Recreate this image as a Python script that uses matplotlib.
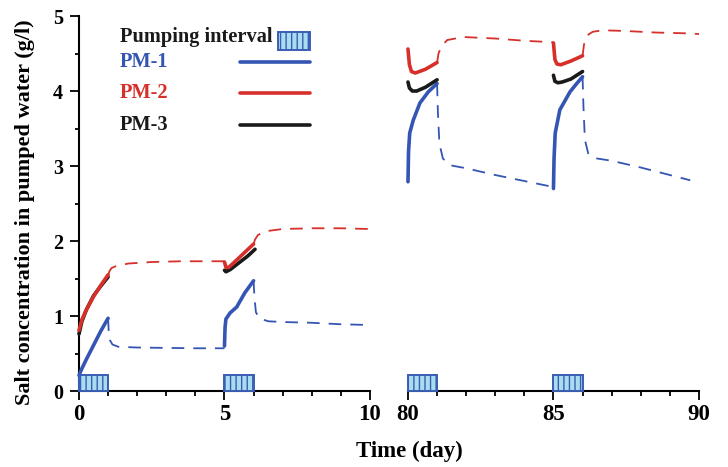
import matplotlib.pyplot as plt
from matplotlib.patches import Rectangle
from matplotlib.ticker import MultipleLocator

plt.rcParams['font.family'] = ['Liberation Serif', 'DejaVu Serif']
plt.rcParams['font.weight'] = 'bold'
plt.rcParams['hatch.linewidth'] = 1.0

BLUE = '#3455b3'
RED = '#d7302b'
BLACK = '#1a1a1a'
BOX_FILL = '#a9dcee'
BOX_EDGE = '#3a5db4'

# pumping intervals (start, end) in days
pump_intervals = [(0, 1), (5, 6), (80, 81), (85, 86)]
box_height = 0.21

# ---- left panel (days 0-10) ----
pm1_pump_t1 = [0.0, 0.1, 0.25, 0.5, 0.75, 1.0]
pm1_pump_c1 = [0.21, 0.30, 0.42, 0.61, 0.80, 0.97]
pm1_rec_t1 = [1.0, 1.02, 1.06, 1.15, 1.35, 2.0, 3.0, 4.0, 5.0]
pm1_rec_c1 = [0.97, 0.80, 0.68, 0.62, 0.59, 0.58, 0.575, 0.57, 0.57]
pm1_pump_t2 = [5.0, 5.02, 5.05, 5.19, 5.42, 5.7, 6.0]
pm1_pump_c2 = [0.60, 0.85, 0.96, 1.04, 1.12, 1.31, 1.47]
pm1_rec_t2 = [6.0, 6.03, 6.08, 6.2, 6.5, 7.0, 8.0, 9.0, 10.0]
pm1_rec_c2 = [1.47, 1.25, 1.05, 0.97, 0.93, 0.92, 0.91, 0.89, 0.88]

pm2_pump_t1 = [0.0, 0.1, 0.25, 0.5, 0.75, 1.0]
pm2_pump_c1 = [0.81, 0.95, 1.08, 1.26, 1.41, 1.55]
pm2_rec_t1 = [1.0, 1.05, 1.12, 1.3, 1.7, 2.5, 3.5, 5.0]
pm2_rec_c1 = [1.55, 1.60, 1.64, 1.67, 1.70, 1.72, 1.73, 1.73]
pm2_pump_t2 = [5.0, 5.05, 5.15, 5.4, 5.7, 6.0]
pm2_pump_c2 = [1.72, 1.65, 1.65, 1.74, 1.85, 1.96]
pm2_rec_t2 = [6.0, 6.05, 6.15, 6.4, 7.0, 8.0, 9.0, 10.0]
pm2_rec_c2 = [1.96, 2.02, 2.08, 2.13, 2.16, 2.17, 2.17, 2.16]

pm3_pump_t1 = [0.0, 0.1, 0.25, 0.5, 0.75, 1.0]
pm3_pump_c1 = [0.76, 0.93, 1.08, 1.27, 1.40, 1.52]
pm3_pump_t2 = [5.0, 5.05, 5.2, 5.5, 5.8, 6.05]
pm3_pump_c2 = [1.61, 1.59, 1.62, 1.71, 1.80, 1.89]

# ---- right panel (days 80-90) ----
pm1_pump_t3 = [80.0, 80.02, 80.06, 80.18, 80.41, 80.7, 81.0]
pm1_pump_c3 = [2.79, 3.20, 3.44, 3.61, 3.84, 3.99, 4.10]
pm1_rec_t3 = [81.0, 81.03, 81.08, 81.2, 81.45, 82.0, 83.0, 84.0, 85.0]
pm1_rec_c3 = [4.10, 3.70, 3.30, 3.10, 3.01, 2.97, 2.88, 2.80, 2.72]
pm1_pump_t4 = [85.0, 85.02, 85.06, 85.22, 85.57, 85.8, 86.0]
pm1_pump_c4 = [2.70, 3.10, 3.44, 3.75, 3.99, 4.10, 4.19]
pm1_rec_t4 = [86.0, 86.03, 86.08, 86.2, 86.5, 87.0, 88.0, 89.0, 89.7]
pm1_rec_c4 = [4.19, 3.80, 3.35, 3.16, 3.10, 3.07, 2.98, 2.88, 2.81]

pm2_pump_t3 = [80.0, 80.05, 80.12, 80.25, 80.6, 81.0]
pm2_pump_c3 = [4.56, 4.35, 4.26, 4.24, 4.29, 4.38]
pm2_rec_t3 = [81.0, 81.05, 81.15, 81.35, 81.9, 83.0, 84.0, 85.0]
pm2_rec_c3 = [4.38, 4.50, 4.60, 4.68, 4.72, 4.70, 4.67, 4.65]
pm2_pump_t4 = [85.0, 85.05, 85.12, 85.25, 85.6, 86.0]
pm2_pump_c4 = [4.64, 4.42, 4.36, 4.35, 4.40, 4.47]
pm2_rec_t4 = [86.0, 86.05, 86.15, 86.35, 86.7, 87.5, 88.5, 89.5, 90.0]
pm2_rec_c4 = [4.47, 4.62, 4.74, 4.79, 4.81, 4.80, 4.78, 4.77, 4.76]

pm3_pump_t3 = [80.0, 80.05, 80.15, 80.3, 80.6, 81.0]
pm3_pump_c3 = [4.12, 4.04, 4.00, 4.00, 4.05, 4.15]
pm3_pump_t4 = [85.0, 85.05, 85.15, 85.3, 85.6, 86.0]
pm3_pump_c4 = [4.21, 4.13, 4.11, 4.12, 4.16, 4.26]

legend_labels = ['Pumping interval', 'PM-1', 'PM-2', 'PM-3']
legend_colors = [BLACK, BLUE, RED, BLACK]


def pump(ax, t, c, color):
    ax.plot(t, c, color=color, lw=2.6, solid_capstyle='round', clip_on=False, zorder=4)


def recovery(ax, t, c, color):
    ax.plot(t, c, color=color, lw=1.3, dashes=(7, 5), clip_on=False, zorder=3)


def boxes(ax, lo, hi):
    for a, b in pump_intervals:
        if lo <= a < hi:
            ax.add_patch(Rectangle((a, 0), b - a, box_height, facecolor=BOX_FILL, edgecolor=BOX_EDGE,
                                   hatch='|||', lw=1.4, clip_on=False, zorder=5))


def style_axis(ax, xlim, xticks, show_left):
    ax.set_xlim(*xlim)
    ax.set_ylim(0, 5)
    ax.set_xticks(xticks)
    ax.xaxis.set_minor_locator(MultipleLocator(1))
    ax.spines['top'].set_visible(False)
    ax.spines['right'].set_visible(False)
    ax.spines['bottom'].set_linewidth(1.5)
    ax.tick_params(axis='x', which='major', length=6.5, width=1.3, labelsize=16.5, pad=3)
    ax.tick_params(axis='x', which='minor', length=3.5, width=1.3)
    if show_left:
        ax.spines['left'].set_linewidth(1.5)
        ax.yaxis.set_minor_locator(MultipleLocator(0.5))
        ax.tick_params(axis='y', which='major', length=6.5, width=1.3, labelsize=14.5, pad=5)
        ax.tick_params(axis='y', which='minor', length=3, width=1.3)
    else:
        ax.spines['left'].set_visible(False)
        ax.tick_params(axis='y', which='both', left=False, labelleft=False)


fig = plt.figure(figsize=(7.28, 4.67), dpi=100)
ax1 = fig.add_axes([0.1085, 0.1627, 0.3997, 0.803])
ax2 = fig.add_axes([0.5604, 0.1627, 0.3997, 0.803])

# left panel
recovery(ax1, pm1_rec_t1, pm1_rec_c1, BLUE)
recovery(ax1, pm1_rec_t2, pm1_rec_c2, BLUE)
recovery(ax1, pm2_rec_t1, pm2_rec_c1, RED)
recovery(ax1, pm2_rec_t2, pm2_rec_c2, RED)
pump(ax1, pm3_pump_t1, pm3_pump_c1, BLACK)
pump(ax1, pm3_pump_t2, pm3_pump_c2, BLACK)
pump(ax1, pm2_pump_t1, pm2_pump_c1, RED)
pump(ax1, pm2_pump_t2, pm2_pump_c2, RED)
pump(ax1, pm1_pump_t1, pm1_pump_c1, BLUE)
pump(ax1, pm1_pump_t2, pm1_pump_c2, BLUE)
boxes(ax1, 0, 10)

# right panel
recovery(ax2, pm1_rec_t3, pm1_rec_c3, BLUE)
recovery(ax2, pm1_rec_t4, pm1_rec_c4, BLUE)
recovery(ax2, pm2_rec_t3, pm2_rec_c3, RED)
recovery(ax2, pm2_rec_t4, pm2_rec_c4, RED)
pump(ax2, pm1_pump_t3, pm1_pump_c3, BLUE)
pump(ax2, pm1_pump_t4, pm1_pump_c4, BLUE)
pump(ax2, pm2_pump_t3, pm2_pump_c3, RED)
pump(ax2, pm2_pump_t4, pm2_pump_c4, RED)
pump(ax2, pm3_pump_t3, pm3_pump_c3, BLACK)
pump(ax2, pm3_pump_t4, pm3_pump_c4, BLACK)
boxes(ax2, 80, 90)

style_axis(ax1, (0, 10), [0, 5, 10], True)
style_axis(ax2, (80, 90), [80, 85, 90], False)

ax1.set_ylabel('Salt concentration in pumped water (g/l)', fontsize=16, fontweight='bold')
ax1.yaxis.set_label_coords(-0.15, 0.477)
fig.text(0.563, 0.022, 'Time (day)', ha='center', va='baseline', fontsize=16.5, fontweight='bold')

# legend drawn by hand
tr = ax1.transAxes
legend_y = [0.944, 0.877, 0.795, 0.709]
for lab, col, y in zip(legend_labels, legend_colors, legend_y):
    ax1.text(0.141, y, lab, transform=tr, color=col, fontsize=14.7, fontweight='bold', va='center', ha='left')
ax1.add_patch(Rectangle((0.684, 0.909), 0.110, 0.048, transform=tr, facecolor=BOX_FILL, edgecolor=BOX_EDGE,
                        hatch='|||', lw=1.4, clip_on=False))
for col, y in zip([BLUE, RED, BLACK], legend_y[1:]):
    ax1.plot([0.553, 0.794], [y, y], transform=tr, color=col, lw=2.6, solid_capstyle='round', clip_on=False)

fig.savefig('out.png', dpi=100)
